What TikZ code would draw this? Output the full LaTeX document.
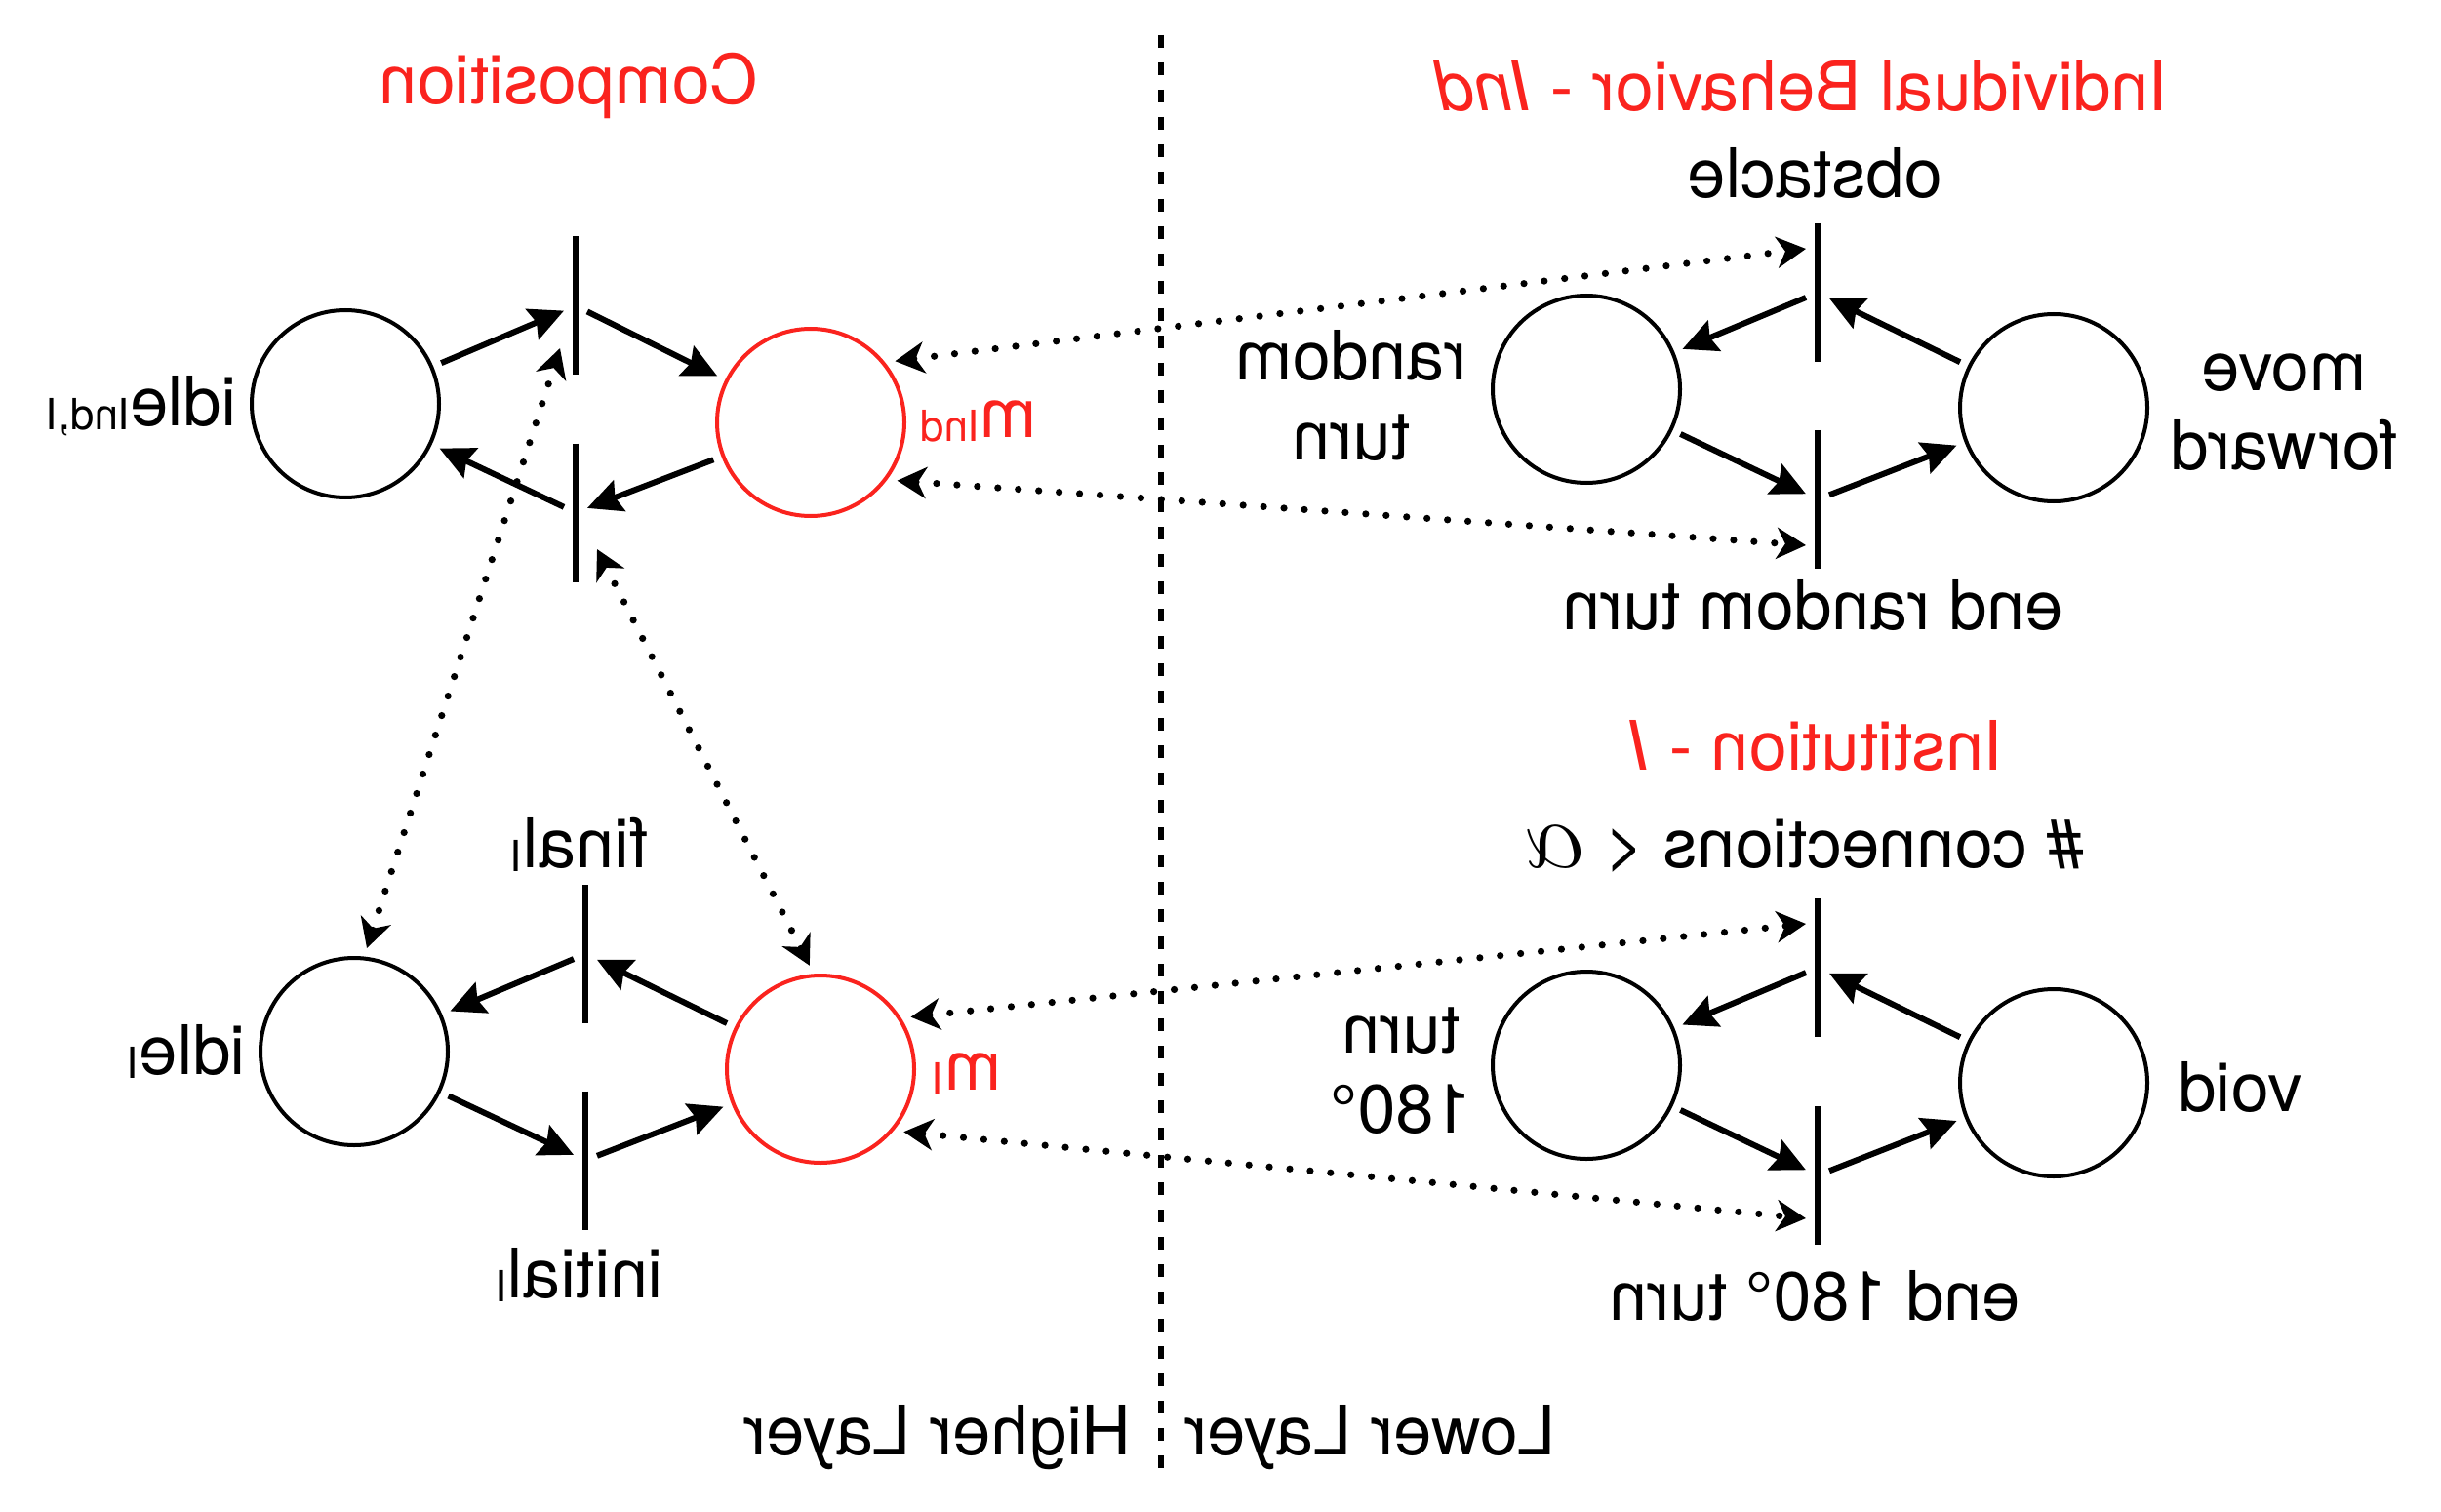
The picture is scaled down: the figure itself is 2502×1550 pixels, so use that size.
\documentclass[tikz,border=0pt]{standalone}
\usepackage{fontspec}
\setmainfont{TeX Gyre Heros}
\usepackage{graphicx}
\usetikzlibrary{arrows.meta,calc}
\definecolor{myred}{RGB}{250,35,30}
\newcommand\rb[1]{\reflectbox{#1}}
\newcommand\subs[1]{\raisebox{-1pt}{\fontsize{11}{12}\selectfont #1}}
\newcommand\twoline[2]{\reflectbox{\begin{tabular}[b]{@{}c@{}}#1\\#2\end{tabular}}}
\begin{document}
\begin{tikzpicture}[x=0.25pt,y=-0.25pt,
  every node/.style={font=\fontsize{17.5}{20.5}\selectfont},
  place/.style={circle,draw,line width=1pt,minimum size=48pt,inner sep=0pt,outer sep=2.7pt},
  rplace/.style={place,draw=myred},
  trans/.style={rectangle,minimum width=6pt,minimum height=35.5pt,inner sep=0pt,outer sep=0pt},
  barline/.style={line width=1.6pt},
  lbl/.style={inner sep=0pt,anchor=base},
  flow/.style={line width=1.5pt,-{Stealth[length=8.8pt,width=8.4pt,inset=1.2pt]}},
  link/.style={line width=1.8pt,line cap=round,dash pattern=on 0pt off 5.25pt,
     {Stealth[length=7.5pt,width=8pt,inset=2.2pt]}-{Stealth[length=7.5pt,width=8pt,inset=2.2pt]}},
  sep/.style={line width=1.3pt,dash pattern=on 3.3pt off 3.7pt}
]
\useasboundingbox (0,0) rectangle (2502,1550);

% separator
\coordinate (dtop) at (1190,36);
\coordinate (dbot) at (1190,1509);
\draw[sep] (dtop) -- (dbot);

% places and transitions
\node[place] (idleInd) at (354,414) {};
\node[rplace] (mInd) at (831,433) {};
\node[trans] (ub) at (590,313.5) {};
\node[trans] (lb) at (590,525.5) {};
\node[place] (idleI) at (363,1078) {};
\node[rplace] (mI) at (841,1096) {};
\node[trans] (fb) at (600,978) {};
\node[trans] (ib) at (600,1189.5) {};
\node[place] (rt) at (1626,399) {};
\node[place] (mf) at (2105,418) {};
\node[trans] (ob) at (1863,300) {};
\node[trans] (erb) at (1863,512) {};
\node[place] (tc) at (1626,1092) {};
\node[place] (vd) at (2105,1110) {};
\node[trans] (cb) at (1863,992) {};
\node[trans] (etb) at (1863,1205) {};
\foreach \b in {ub,lb,fb,ib,ob,erb,cb,etb} \draw[barline] (\b.north) -- (\b.south);

% solid arcs
\draw[flow] (idleInd) -- (ub);
\draw[flow] (ub) -- (mInd);
\draw[flow] (mInd) -- (lb);
\draw[flow] (lb) -- (idleInd);
\draw[flow] (fb) -- (idleI);
\draw[flow] (mI) -- (fb);
\draw[flow] (idleI) -- (ib);
\draw[flow] (ib) -- (mI);
\draw[flow] (ob) -- (rt);
\draw[flow] (mf) -- (ob);
\draw[flow] (rt) -- (erb);
\draw[flow] (erb) -- (mf);
\draw[flow] (cb) -- (tc);
\draw[flow] (vd) -- (cb);
\draw[flow] (tc) -- (etb);
\draw[flow] (etb) -- (vd);

% dotted links
\draw[link] (mInd.36) -- ($(ob.west)+(0,-45)$);
\draw[link] (mInd.-34) -- ($(erb.west)+(0,47)$);
\draw[link] (mI.30) -- ($(cb.west)+(0,-45)$);
\draw[link] (mI.-37) -- ($(etb.west)+(0,44)$);
\draw[link] (idleI.83) -- ($(ub.west)+(-4,43.5)$);
\draw[link] (mI.96) -- ($(lb.east)+(10,37.5)$);

% labels
\node[lbl,text=myred] (tComp) at (583,107) {\rb{Composition}};
\node[lbl,text=myred] (tInd) at (1846,114) {\rb{Individual Behavior - \textit{Ind}}};
\node[lbl] (tObs) at (1860,203) {\rb{obstacle}};
\node[lbl] (tRT) at (1385,471) {\twoline{random}{turn}};
\node[lbl] (tMF) at (2341,482) {\twoline{move}{forward}};
\node[lbl] (tERT) at (1858,645) {\rb{end random turn}};
\node[lbl,text=myred] (tInst) at (1862,789) {\rb{Institution - \textit{I}}};
\node[lbl] (tConn) at (1849,889) {\rb{\# connections < {\fontsize{24}{24}\selectfont$\alpha$}}};
\node[lbl] (tTC) at (1436,1161) {\twoline{turn}{180°}};
\node[lbl] (tVoid) at (2296,1139) {\rb{void}};
\node[lbl] (tETT) at (1860,1353) {\rb{end 180° turn}};
\node[lbl] (tLow) at (1404,1491) {\rb{Lower Layer}};
\node[lbl] (tHigh) at (961,1491) {\rb{Higher Layer}};
\node[lbl] (tIdleInd) at (145,437) {\rb{idle\subs{Ind,I}}};
\node[lbl,text=myred] (tmInd) at (1003,449) {\rb{m\subs{Ind}}};
\node[lbl] (tIdleI) at (191,1101) {\rb{idle\subs{I}}};
\node[lbl] (tFinal) at (594,889) {\rb{final\subs{I}}};
\node[lbl] (tInit) at (594,1330) {\rb{initial\subs{I}}};
\node[lbl,text=myred] (tmI) at (991,1117) {\rb{m\subs{I}}};
\end{tikzpicture}
\end{document}
